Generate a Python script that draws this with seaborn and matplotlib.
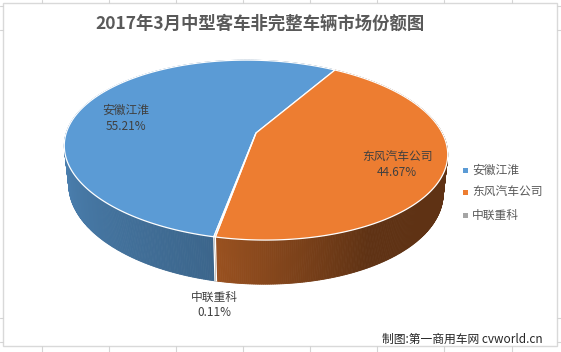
import numpy as np
import matplotlib
matplotlib.use("Agg")
import matplotlib.pyplot as plt
from matplotlib.patches import Polygon, Rectangle
import seaborn as sns

# ---------------- data ----------------
title = "2017年3月中型客车非完整车辆市场份额图"
categories = ["安徽江淮", "东风汽车公司", "中联重科"]
shares = [55.21, 44.67, 0.11]
pct_labels = ["55.21%", "44.67%", "0.11%"]
source_note = "制图:第一商用车网 cvworld.cn"

# ---------------- style ----------------
sns.set_theme(style="white")
plt.rcParams['font.family'] = ['Noto Sans CJK SC', 'DejaVu Sans']
palette = sns.color_palette(["#5B9BD5", "#ED7D31", "#A5A5A5"])

W, H = 561, 352
fig = plt.figure(figsize=(W / 100, H / 100), dpi=100)
ax = fig.add_axes([0, 0, 1, 1])
ax.set_xlim(0, W)
ax.set_ylim(H, 0)
ax.axis('off')

# --- sheet grid stubs & chart border ---
grid_c = "#d4d4d4"
for gx in [42, 109, 176, 243, 310, 377, 444, 512]:
    ax.plot([gx, gx], [0, 3], color=grid_c, lw=0.8)
    ax.plot([gx, gx], [346, H], color=grid_c, lw=0.8)
for gy in [6, 30, 318, 342]:
    ax.plot([0, 3], [gy, gy], color=grid_c, lw=0.8)
    ax.plot([557, W], [gy, gy], color=grid_c, lw=0.8)
ax.add_patch(Rectangle((3, 3), 554, 343, fill=False, ec="#d9d9d9", lw=1.0))

# ---------------- 3D perspective pie ----------------
ELEV = np.radians(27.4)
s_e, c_e = np.sin(ELEV), np.cos(ELEV)
DIST, FOC, THICK = 4.67, 879.0, 0.235
CX, CY, SHEAR = 256.0, 133.0, 0.023
START = np.radians(259.5)   # first slice start, drawn clockwise


def project(phi, z=0.0, r=1.0):
    x, y = r * np.cos(phi), r * np.sin(phi)
    depth = DIST + y * c_e - z * s_e
    sx = x * FOC / depth
    sy = (y * s_e + z * c_e) * FOC / depth
    return CX + sx, CY - sy + SHEAR * sx


def shade(phi):
    d = np.degrees(phi) % 360
    return np.interp(d, [0, 150, 180, 258, 300, 360],
                     [0.40, 0.90, 0.86, 0.66, 0.40, 0.40])


vals = np.array(shares, dtype=float)
cum = np.concatenate([[0], np.cumsum(vals)]) / vals.sum()
bounds = START - 2 * np.pi * cum

# side walls
quads = []
for i in range(len(vals)):
    a0, a1 = bounds[i], bounds[i + 1]
    n = max(2, int(abs(a1 - a0) / np.radians(0.5)) + 1)
    ph = np.linspace(a0, a1, n)
    base = np.array(palette[i])
    for p0, p1 in zip(ph[:-1], ph[1:]):
        m = 0.5 * (p0 + p1)
        depth = DIST + np.sin(m) * c_e
        pts = [project(p0), project(p1), project(p1, -THICK), project(p0, -THICK)]
        col = np.clip(base * shade(m), 0, 1)
        quads.append((depth, pts, col))
quads.sort(key=lambda q: -q[0])
for k, (_, pts, col) in enumerate(quads):
    ax.add_patch(Polygon(pts, closed=True, fc=col, ec=col, lw=0.6, zorder=2 + k * 1e-5))

# boundary lines on the side walls
for b in bounds[:-1]:
    if np.sin(b) < 0:
        p_top, p_bot = project(b), project(b, -THICK)
        ax.plot([p_top[0], p_bot[0]], [p_top[1], p_bot[1]], color="white", lw=0.9, zorder=3)

# top faces
for i in range(len(vals)):
    a0, a1 = bounds[i], bounds[i + 1]
    n = max(2, int(abs(a1 - a0) / np.radians(0.5)) + 1)
    ph = np.linspace(a0, a1, n)
    pts = [project(0, 0, 0.0)] + [project(p) for p in ph]
    ax.add_patch(Polygon(pts, closed=True, fc=palette[i], ec="white", lw=0.9, zorder=4))

# data labels
lab_c = "#404040"
lab_pos = [(126, 118), (397, 165), (214, 305)]
for (lx, ly), cat, pct in zip(lab_pos, categories, pct_labels):
    ax.text(lx, ly - 8, cat, ha="center", va="center", fontsize=8.5, color=lab_c, zorder=6)
    ax.text(lx, ly + 8, pct, ha="center", va="center", fontsize=8.5, color=lab_c, zorder=6)

# title
ax.text(260, 24, title, ha="center", va="center", fontsize=12.5, fontweight="bold", color="#595959")

# legend
for j, cat in enumerate(categories):
    ly = 170 + 22.5 * j
    ax.add_patch(Rectangle((463, ly - 2.5), 5, 5, fc=palette[j], ec="none"))
    ax.text(472, ly, cat, ha="left", va="center", fontsize=8.5, color="#595959")

# source note
ax.text(543, 339, source_note, ha="right", va="center", fontsize=8.5, color="#262626")

fig.savefig("out.png", dpi=100)
